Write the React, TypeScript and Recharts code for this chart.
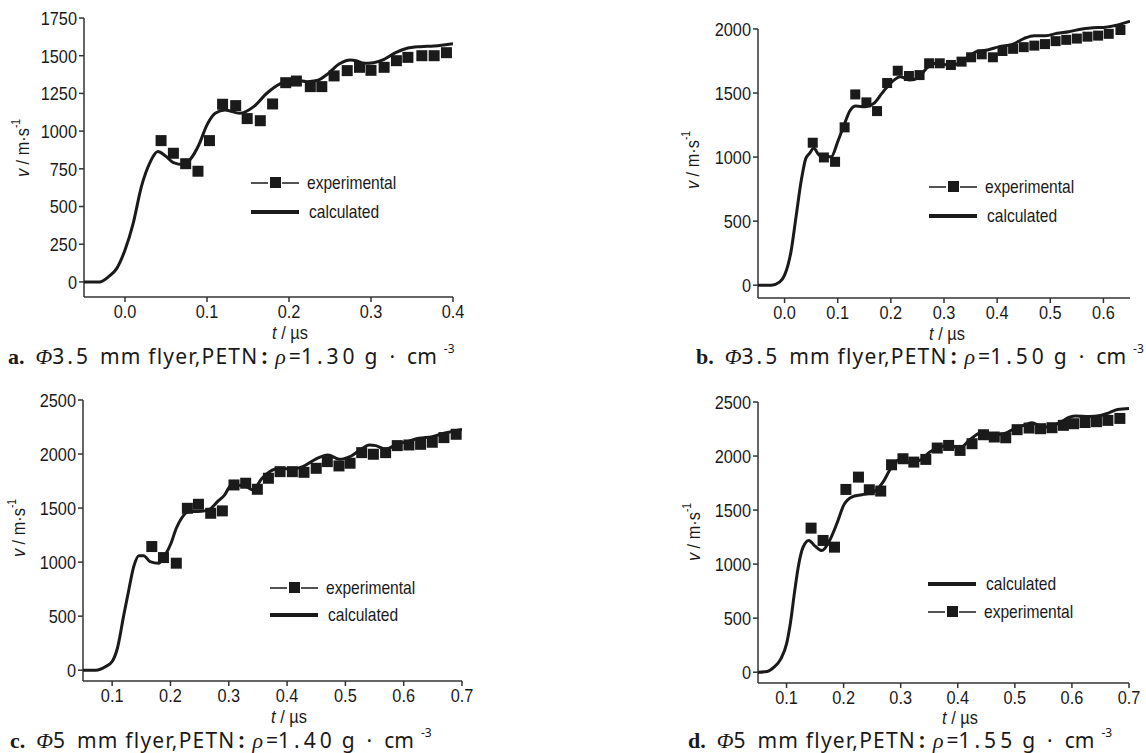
import React from 'react';
import { ComposedChart, Line, XAxis, YAxis, ReferenceLine } from 'recharts';

// ---------- Panel a: Φ3.5 mm, ρ=1.30 ----------
const tExpA = [0.044, 0.059, 0.074, 0.089, 0.103, 0.119, 0.135, 0.149, 0.165, 0.180, 0.196, 0.209, 0.226, 0.240, 0.255, 0.271, 0.286, 0.300, 0.316, 0.331, 0.345, 0.362, 0.377, 0.392];
const vExpA = [937, 853, 784, 734, 937, 1178, 1169, 1083, 1069, 1180, 1321, 1332, 1295, 1295, 1366, 1401, 1423, 1403, 1423, 1467, 1489, 1500, 1500, 1520];
const tCalcA = [-0.05, -0.031, -0.020, -0.010, 0.0, 0.010, 0.020, 0.031, 0.040, 0.049, 0.059, 0.071, 0.079, 0.090, 0.100, 0.110, 0.122, 0.140, 0.157, 0.173, 0.189, 0.206, 0.222, 0.234, 0.248, 0.261, 0.275, 0.282, 0.291, 0.303, 0.316, 0.330, 0.344, 0.360, 0.377, 0.393, 0.400];
const vCalcA = [0, 0, 35, 90, 212, 389, 632, 798, 864, 837, 791, 778, 809, 908, 1041, 1118, 1140, 1118, 1162, 1251, 1313, 1339, 1328, 1335, 1383, 1445, 1472, 1467, 1450, 1454, 1476, 1520, 1549, 1560, 1564, 1575, 1580];

// ---------- Panel b: Φ3.5 mm, ρ=1.50 ----------
const tExpB = [0.053, 0.074, 0.095, 0.113, 0.133, 0.154, 0.174, 0.193, 0.213, 0.234, 0.254, 0.272, 0.292, 0.313, 0.333, 0.351, 0.371, 0.392, 0.410, 0.430, 0.450, 0.470, 0.490, 0.510, 0.530, 0.550, 0.570, 0.590, 0.610, 0.632];
const vExpB = [1112, 997, 963, 1232, 1489, 1427, 1359, 1578, 1674, 1633, 1640, 1732, 1732, 1719, 1745, 1779, 1802, 1779, 1828, 1845, 1858, 1870, 1882, 1905, 1915, 1925, 1940, 1948, 1962, 1992];
const tCalcB = [-0.05, -0.025, -0.009, 0.0, 0.012, 0.022, 0.031, 0.040, 0.047, 0.055, 0.065, 0.078, 0.088, 0.100, 0.112, 0.123, 0.134, 0.152, 0.168, 0.183, 0.202, 0.218, 0.236, 0.252, 0.267, 0.286, 0.308, 0.323, 0.342, 0.361, 0.382, 0.404, 0.429, 0.451, 0.470, 0.491, 0.513, 0.535, 0.560, 0.580, 0.600, 0.620, 0.650];
const vCalcB = [0, 0, 26, 78, 260, 547, 807, 990, 1029, 1068, 1016, 1003, 1003, 1120, 1250, 1362, 1398, 1393, 1419, 1497, 1588, 1628, 1601, 1620, 1693, 1732, 1719, 1724, 1771, 1823, 1836, 1862, 1880, 1927, 1948, 1948, 1966, 1979, 2000, 2010, 2012, 2025, 2060];

// ---------- Panel c: Φ5 mm, ρ=1.40 ----------
const tExpC = [0.168, 0.188, 0.210, 0.229, 0.248, 0.269, 0.289, 0.309, 0.329, 0.349, 0.368, 0.388, 0.409, 0.429, 0.450, 0.469, 0.489, 0.508, 0.528, 0.548, 0.569, 0.589, 0.609, 0.629, 0.649, 0.669, 0.690];
const vExpC = [1144, 1042, 990, 1498, 1535, 1452, 1474, 1714, 1730, 1674, 1776, 1837, 1837, 1831, 1868, 1930, 1890, 1915, 2013, 1998, 2013, 2078, 2084, 2090, 2109, 2152, 2183];
const tCalcC = [0.05, 0.072, 0.089, 0.100, 0.109, 0.120, 0.128, 0.137, 0.146, 0.154, 0.165, 0.180, 0.191, 0.201, 0.210, 0.219, 0.231, 0.248, 0.265, 0.282, 0.293, 0.302, 0.313, 0.330, 0.342, 0.356, 0.370, 0.387, 0.410, 0.427, 0.450, 0.470, 0.490, 0.510, 0.527, 0.541, 0.552, 0.569, 0.586, 0.606, 0.626, 0.649, 0.669, 0.700];
const vCalcC = [0, 0, 34, 80, 203, 512, 728, 959, 1060, 1060, 1005, 990, 1067, 1175, 1313, 1406, 1468, 1468, 1483, 1566, 1622, 1699, 1714, 1699, 1668, 1770, 1837, 1868, 1862, 1884, 1955, 1992, 1952, 1982, 2044, 2084, 2078, 2044, 2084, 2115, 2146, 2161, 2192, 2228];

// ---------- Panel d: Φ5 mm, ρ=1.55 ----------
const tExpD = [0.143, 0.164, 0.184, 0.204, 0.226, 0.245, 0.265, 0.284, 0.304, 0.323, 0.344, 0.364, 0.384, 0.404, 0.425, 0.445, 0.464, 0.484, 0.504, 0.525, 0.545, 0.565, 0.585, 0.603, 0.623, 0.643, 0.663, 0.684];
const vExpD = [1333, 1219, 1157, 1691, 1805, 1688, 1676, 1919, 1975, 1944, 1969, 2074, 2098, 2052, 2114, 2197, 2176, 2169, 2244, 2259, 2253, 2262, 2284, 2299, 2310, 2318, 2330, 2348];
const tCalcD = [0.05, 0.066, 0.078, 0.090, 0.100, 0.107, 0.114, 0.121, 0.129, 0.139, 0.150, 0.162, 0.174, 0.188, 0.200, 0.214, 0.232, 0.252, 0.269, 0.284, 0.298, 0.316, 0.333, 0.351, 0.368, 0.385, 0.403, 0.420, 0.441, 0.461, 0.481, 0.501, 0.519, 0.530, 0.545, 0.559, 0.580, 0.597, 0.606, 0.630, 0.650, 0.665, 0.680, 0.700];
const vCalcD = [0, 6, 46, 123, 262, 463, 741, 988, 1157, 1219, 1167, 1126, 1204, 1373, 1543, 1620, 1642, 1666, 1759, 1898, 1969, 1944, 1960, 2037, 2083, 2098, 2074, 2145, 2216, 2197, 2206, 2259, 2290, 2308, 2277, 2268, 2315, 2361, 2370, 2365, 2375, 2400, 2430, 2440];

const xTicksA = [0.0, 0.1, 0.2, 0.3, 0.4];
const xTicksB = [0.0, 0.1, 0.2, 0.3, 0.4, 0.5, 0.6];
const xTicksCD = [0.1, 0.2, 0.3, 0.4, 0.5, 0.6, 0.7];
const yTicksA = [0, 250, 500, 750, 1000, 1250, 1500, 1750];
const yTicksB = [0, 500, 1000, 1500, 2000];
const yTicksCD = [0, 500, 1000, 1500, 2000, 2500];

const zip = (t: number[], v: number[]) => t.map((x, i) => ({ t: x, v: v[i] }));

const SANS = "'Liberation Sans', Arial, sans-serif";
const INK = '#1a1a1a';
const AXIS = '#333';
const SX = 0.86;
const FS = 19;

const makeSquare = (size: number) => (p: any) => {
  if (p.cx == null || p.cy == null) return <g key={p.key} />;
  return <rect key={p.key} x={p.cx - size / 2} y={p.cy - size / 2} width={size} height={size} fill={INK} />;
};

const XTick = (p: any) => (
  <g transform={`translate(${p.x},${p.y})`}>
    <text transform={`scale(${SX},1)`} textAnchor="middle" dy="0.72em" fontSize={FS} fontFamily={SANS} fill={INK}>
      {Number(p.payload.value).toFixed(1)}
    </text>
  </g>
);
const YTick = (p: any) => (
  <g transform={`translate(${p.x},${p.y})`}>
    <text transform={`scale(${SX},1)`} textAnchor="end" dy="0.36em" fontSize={FS} fontFamily={SANS} fill={INK}>
      {p.payload.value}
    </text>
  </g>
);

type PanelProps = {
  left: number; top: number; w: number; h: number;
  margin: { top: number; right: number; bottom: number; left: number };
  xDomain: [number, number]; xTicks: number[];
  yDomain: [number, number]; yTicks: number[]; yAxisTop: number;
  exp: { t: number; v: number }[]; calc: { t: number; v: number }[];
  sq: number;
};

function Panel(p: PanelProps) {
  return (
    <div style={{ position: 'absolute', left: p.left, top: p.top, width: p.w, height: p.h }}>
      <ComposedChart width={p.w} height={p.h} margin={p.margin}>
        <XAxis
          type="number" dataKey="t" domain={p.xDomain} ticks={p.xTicks} allowDataOverflow
          height={30} tick={<XTick />} stroke={AXIS} strokeWidth={1.5} tickSize={5}
          tickLine={{ stroke: AXIS, strokeWidth: 1.5 }} interval={0}
        />
        <YAxis
          type="number" dataKey="v" domain={p.yDomain} ticks={p.yTicks} allowDataOverflow width={60}
          tick={<YTick />} axisLine={false} tickSize={5}
          tickLine={{ stroke: AXIS, strokeWidth: 1.5 }} interval={0}
        />
        <ReferenceLine
          segment={[{ x: p.xDomain[0], y: p.yDomain[0] }, { x: p.xDomain[0], y: p.yAxisTop }]}
          stroke={AXIS} strokeWidth={1.5} ifOverflow="visible"
        />
        <Line data={p.calc} dataKey="v" type="monotone" stroke={INK} strokeWidth={3} dot={false}
          isAnimationActive={false} legendType="none" />
        <Line data={p.exp} dataKey="v" type="linear" stroke="none" dot={makeSquare(p.sq)}
          activeDot={false} isAnimationActive={false} legendType="none" />
      </ComposedChart>
    </div>
  );
}

function YLabel({ x, y }: { x: number; y: number }) {
  return (
    <div style={{
      position: 'absolute', left: x, top: y, transform: `translate(-50%, -50%) rotate(-90deg) scale(${SX},1)`,
      fontFamily: SANS, fontSize: FS, color: INK, whiteSpace: 'nowrap', lineHeight: 1,
    }}>
      <i>v</i> / m·s<sup style={{ fontSize: 12, verticalAlign: 'top', position: 'relative', top: -3 }}>-1</sup>
    </div>
  );
}

function XLabel({ x, y }: { x: number; y: number }) {
  return (
    <div style={{
      position: 'absolute', left: x, top: y, transform: `translate(-50%, -50%) scale(${SX},1)`,
      fontFamily: SANS, fontSize: FS, color: INK, whiteSpace: 'nowrap', lineHeight: 1,
    }}>
      <i>t</i> / µs
    </div>
  );
}

function LegendRow({ x, y, kind, label }: { x: number; y: number; kind: 'exp' | 'calc'; label: string }) {
  return (
    <div style={{ position: 'absolute', left: x, top: y - 12, height: 24, display: 'flex', alignItems: 'center' }}>
      <svg width={50} height={24} style={{ display: 'block' }}>
        {kind === 'exp' ? (
          <g>
            <line x1={0} y1={12} x2={17} y2={12} stroke={INK} strokeWidth={1.5} />
            <line x1={31} y1={12} x2={48} y2={12} stroke={INK} strokeWidth={1.5} />
            <rect x={19} y={6} width={11} height={11} fill={INK} />
          </g>
        ) : (
          <line x1={0} y1={12} x2={48} y2={12} stroke={INK} strokeWidth={4} />
        )}
      </svg>
      <span style={{
        fontFamily: SANS, fontSize: FS, color: INK, marginLeft: kind === 'exp' ? 6 : 8, whiteSpace: 'nowrap',
        display: 'inline-block', transform: 'scale(0.82,1)', transformOrigin: 'left center',
      }}>{label}</span>
    </div>
  );
}

const SERIF = "'Liberation Serif', 'DejaVu Serif', serif";
const CAPSANS = "'Noto Sans', 'DejaVu Sans', sans-serif";

function Caption({ x, y, letter, dia, dens }: { x: number; y: number; letter: string; dia: string; dens: string }) {
  return (
    <div style={{
      position: 'absolute', left: x, top: y, transform: 'translateY(-50%)', whiteSpace: 'nowrap',
      fontFamily: CAPSANS, fontSize: 21, color: INK, lineHeight: 1, display: 'flex', alignItems: 'baseline',
    }}>
      <b style={{ fontFamily: SERIF, fontSize: 22 }}>{letter}.</b>
      <span style={{ marginLeft: 11 }}>
        <i style={{ fontFamily: SERIF, fontSize: 22 }}>Φ</i>
        <span style={{ letterSpacing: 3 }}>{dia}</span>
      </span>
      <span style={{ marginLeft: 9, letterSpacing: 1.2 }}>mm flyer,PETN</span>
      <span style={{ marginLeft: 3, fontWeight: 700 }}>:</span>
      <i style={{ fontFamily: SERIF, fontSize: 22, marginLeft: 8 }}>ρ</i>
      <span style={{ marginLeft: 3 }}>=</span>
      <span style={{ letterSpacing: 4 }}>{dens}</span>
      <span style={{ marginLeft: 6 }}>g</span>
      <span style={{ marginLeft: 12 }}>·</span>
      <span style={{ marginLeft: 12 }}>cm</span>
      <span style={{ fontSize: 12, marginLeft: 7, position: 'relative', top: -11 }}>-3</span>
    </div>
  );
}

export default function App() {
  return (
    <div style={{ position: 'absolute', left: 0, top: 0, width: 1146, height: 753, background: '#fff', overflow: 'hidden' }}>
      <Panel left={0} top={0} w={560} h={360} margin={{ top: 18, right: 107, bottom: 33, left: 24 }}
        xDomain={[-0.05, 0.4]} xTicks={xTicksA} yDomain={[-100, 1750]} yTicks={yTicksA} yAxisTop={1750}
        exp={zip(tExpA, vExpA)} calc={zip(tCalcA, vCalcA)} sq={11} />
      <Panel left={560} top={0} w={586} h={360} margin={{ top: 20, right: 16, bottom: 32, left: 138 }}
        xDomain={[-0.05, 0.65]} xTicks={xTicksB} yDomain={[-100, 2070]} yTicks={yTicksB} yAxisTop={2000}
        exp={zip(tExpB, vExpB)} calc={zip(tCalcB, vCalcB)} sq={10} />
      <Panel left={0} top={370} w={560} h={383} margin={{ top: 30, right: 98, bottom: 42, left: 23 }}
        xDomain={[0.05, 0.7]} xTicks={xTicksCD} yDomain={[-100, 2500]} yTicks={yTicksCD} yAxisTop={2500}
        exp={zip(tExpC, vExpC)} calc={zip(tCalcC, vCalcC)} sq={11} />
      <Panel left={560} top={370} w={586} h={383} margin={{ top: 32, right: 17, bottom: 40, left: 138 }}
        xDomain={[0.05, 0.7]} xTicks={xTicksCD} yDomain={[-100, 2500]} yTicks={yTicksCD} yAxisTop={2500}
        exp={zip(tExpD, vExpD)} calc={zip(tCalcD, vCalcD)} sq={11} />

      <YLabel x={22} y={148} />
      <YLabel x={692} y={160} />
      <YLabel x={18} y={528} />
      <YLabel x={693} y={532} />

      <XLabel x={290} y={332} />
      <XLabel x={947} y={333} />
      <XLabel x={289} y={716} />
      <XLabel x={960} y={717} />

      <LegendRow x={251} y={183} kind="exp" label="experimental" />
      <LegendRow x={251} y={212} kind="calc" label="calculated" />
      <LegendRow x={929} y={187} kind="exp" label="experimental" />
      <LegendRow x={929} y={216} kind="calc" label="calculated" />
      <LegendRow x={270} y={588} kind="exp" label="experimental" />
      <LegendRow x={270} y={615} kind="calc" label="calculated" />
      <LegendRow x={928} y={584} kind="calc" label="calculated" />
      <LegendRow x={928} y={612} kind="exp" label="experimental" />

      <Caption x={8} y={357} letter="a" dia="3.5" dens="1.30" />
      <Caption x={696} y={357} letter="b" dia="3.5" dens="1.50" />
      <Caption x={10} y={741} letter="c" dia="5" dens="1.40" />
      <Caption x={688} y={741} letter="d" dia="5" dens="1.55" />
    </div>
  );
}
